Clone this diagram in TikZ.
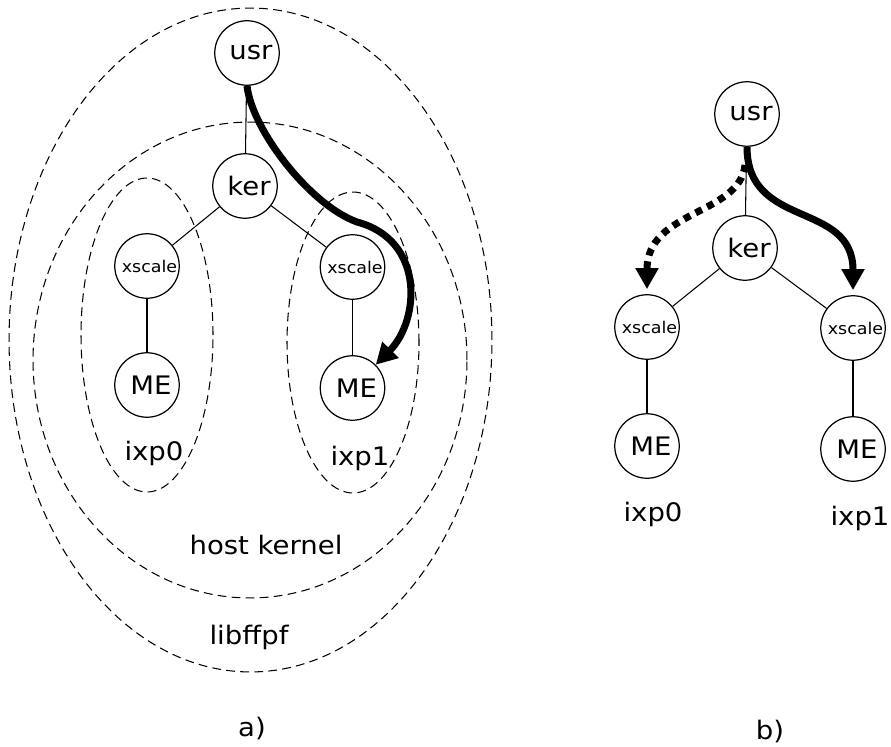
\documentclass[tikz,border=0pt]{standalone}
\usepackage{fontspec}
\setmainfont{DejaVu Sans}[FakeStretch=1.08]
\usepackage{tikz}
\usetikzlibrary{shapes,arrows,arrows.meta}
\tikzstyle{proc} = [circle, draw, line width=0.7pt, minimum size=1.29cm,
    inner sep=0pt, font=\fontsize{14.5}{17}\selectfont,
    execute at begin node={\hskip0.16cm}]
\tikzstyle{cpu} = [circle, draw, line width=0.7pt, minimum size=1.29cm,
    inner sep=0pt, font=\fontsize{9.2}{11}\selectfont,
    execute at begin node={\hskip0.1cm}]
\tikzstyle{tag} = [font=\fontsize{14.5}{17}\selectfont]
\tikzstyle{zone} = [draw, dash pattern=on 5pt off 3pt, line width=0.6pt]
\tikzstyle{link} = [draw, line width=0.6pt]
\tikzstyle{flow} = [draw, line width=4pt, -{Triangle[length=12pt,width=12.5pt]}]
\tikzstyle{maybe} = [flow, dash pattern=on 4pt off 3.4pt]

\begin{document}
\begin{tikzpicture}[x=0.02cm, y=-0.02cm]
    \useasboundingbox (0,0) rectangle (891,746);
    % Zones
    \draw[zone] (250.5,340) ellipse [x radius=4.83cm, y radius=6.64cm];
    \draw[zone] (250,360) ellipse [x radius=4.34cm, y radius=4.76cm];
    \draw[zone] (147,335) ellipse [x radius=1.32cm, y radius=3.14cm];
    \draw[zone] (353,342.5) ellipse [x radius=1.32cm, y radius=3.01cm];

    % Place nodes
    % a)
    \node [proc] (usra) at (247,53) {usr};
    \node [proc] (kera) at (245,186) {ker};
    \node [cpu] (xs0a) at (147,266) {xscale};
    \node [cpu] (xs1a) at (352.5,267) {xscale};
    \node [proc] (me0a) at (147,385) {ME};
    \node [proc] (me1a) at (352.5,388) {ME};
    \node [tag] (ixp0a) at (154,453) {ixp0};
    \node [tag] (ixp1a) at (360,458) {ixp1};
    \node [tag] (host) at (266,545) {host kernel};
    \node [tag] (lib) at (249,637) {libffpf};
    \node [tag] (capa) at (252,729) {a)};
    % b)
    \node [proc] (usrb) at (747,114) {usr};
    \node [proc] (kerb) at (745,248) {ker};
    \node [cpu] (xs0b) at (647,327) {xscale};
    \node [cpu] (xs1b) at (853,328) {xscale};
    \node [proc] (me0b) at (647,446) {ME};
    \node [proc] (me1b) at (853,449) {ME};
    \node [tag] (ixp0b) at (653,514) {ixp0};
    \node [tag] (ixp1b) at (860,518) {ixp1};
    \node [tag] (capb) at (770,731) {b)};
    \coordinate (dstart) at (745,165);

    % Draw edges
    \path[link] (usra) -- (kera);
    \path[link] (kera) -- (xs0a);
    \path[link] (kera) -- (xs1a);
    \path[link] (xs0a) -- (me0a);
    \path[link] (xs1a) -- (me1a);
    \path[link] (usrb) -- (kerb);
    \path[link] (kerb) -- (xs0b);
    \path[link] (kerb) -- (xs1b);
    \path[link] (xs0b) -- (me0b);
    \path[link] (xs1b) -- (me1b);

    % Paths
    \draw[flow] (usra.south) .. controls (252,130) and (310,205) .. (357,222)
        .. controls (425,240) and (420,320) .. (me1a.45);
    \draw[flow, shorten >=0.1cm] (usrb.south) .. controls (747,230) and (853,200) .. (xs1b.north);
    \draw[maybe, shorten >=0.1cm] (dstart) .. controls (740,215) and (647,210) .. (xs0b.north);
\end{tikzpicture}
\end{document}
